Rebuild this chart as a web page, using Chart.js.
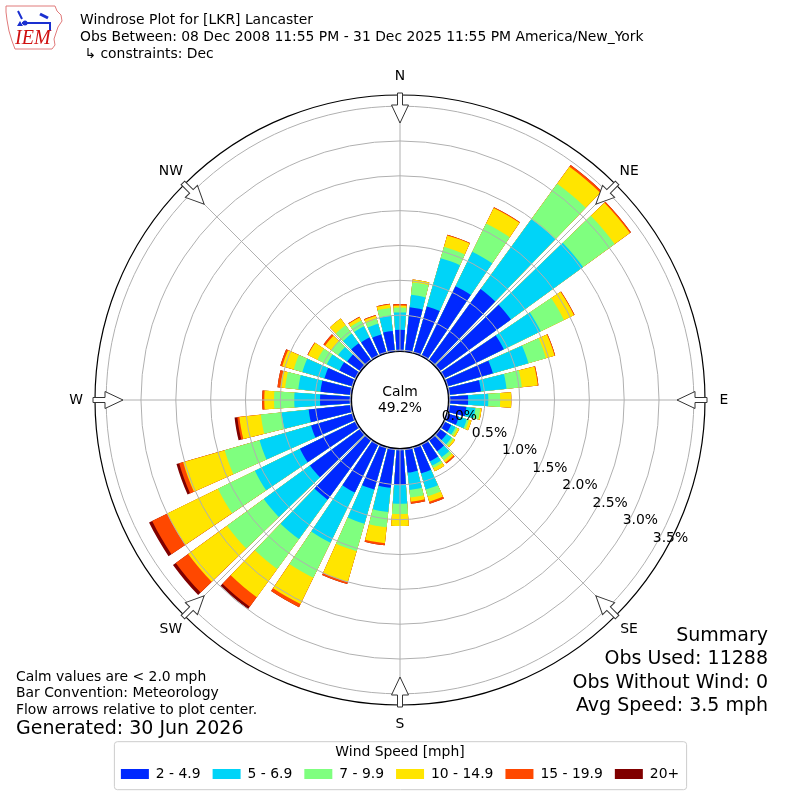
<!DOCTYPE html>
<html>
<head>
<meta charset="utf-8">
<title>Windrose Plot for [LKR] Lancaster</title>
<script src="https://cdn.jsdelivr.net/npm/chart.js@4.4.1/dist/chart.umd.min.js"></script>
<style>
  html, body { margin: 0; padding: 0; background: #fff; }
  #wrap { width: 800px; height: 800px; }
</style>
</head>
<body>
<div id="wrap"><canvas id="rose" width="800" height="800"></canvas></div>
<script>
// direction the wind blows from, degrees (N first, then clockwise)
const directions = [0, 10, 20, 30, 40, 50, 60, 70, 80, 90, 100, 110, 120, 130, 140, 150, 160, 170,
                    180, 190, 200, 210, 220, 230, 240, 250, 260, 270, 280, 290, 300, 310, 320, 330, 340, 350];

const speedBins = ['2 - 4.9', '5 - 6.9', '7 - 9.9', '10 - 14.9', '15 - 19.9', '20+'];

// frequency (% of all obs) per speed bin, one value per direction
const mph2to5 = [0.29, 0.62, 0.68, 1.10, 1.25, 1.25, 0.94, 0.67, 0.45, 0.26, 0.24, 0.16, 0.10, 0.11, 0.19, 0.26, 0.38, 0.33,
                 0.50, 0.55, 0.62, 0.76, 1.05, 0.88, 0.88, 0.61, 0.60, 0.43, 0.43, 0.41, 0.25, 0.22, 0.29, 0.28, 0.26, 0.28];
const mph5to7 = [0.25, 0.18, 0.72, 0.55, 1.24, 1.28, 0.59, 0.53, 0.37, 0.29, 0.13, 0.12, 0.07, 0.09, 0.11, 0.07, 0.24, 0.25,
                 0.27, 0.35, 0.51, 0.80, 0.70, 0.82, 0.72, 0.77, 0.39, 0.37, 0.32, 0.33, 0.20, 0.16, 0.17, 0.18, 0.16, 0.22];
const mph7to10 = [0.07, 0.18, 0.17, 0.45, 0.63, 0.56, 0.37, 0.26, 0.22, 0.17, 0.07, 0.03, 0.03, 0.03, 0.05, 0.04, 0.10, 0.11,
                  0.15, 0.22, 0.41, 0.56, 0.53, 0.65, 0.59, 0.52, 0.30, 0.29, 0.19, 0.13, 0.15, 0.12, 0.15, 0.09, 0.07, 0.11];
const mph10to15 = [0.03, 0.04, 0.17, 0.25, 0.30, 0.27, 0.16, 0.13, 0.23, 0.16, 0.02, 0.04, 0.03, 0.03, 0.04, 0.05, 0.08, 0.06,
                   0.17, 0.23, 0.46, 0.42, 0.50, 0.69, 0.81, 0.62, 0.31, 0.14, 0.07, 0.17, 0.15, 0.11, 0.12, 0.05, 0.05, 0.05];
const mph15to20 = [0.02, 0.00, 0.01, 0.01, 0.03, 0.02, 0.01, 0.01, 0.01, 0.00, 0.00, 0.00, 0.00, 0.00, 0.02, 0.00, 0.03, 0.03,
                   0.00, 0.03, 0.03, 0.05, 0.17, 0.22, 0.24, 0.06, 0.03, 0.03, 0.04, 0.03, 0.01, 0.03, 0.00, 0.01, 0.01, 0.01];
const mph20up = [0, 0, 0, 0, 0, 0, 0, 0, 0, 0, 0, 0, 0, 0, 0, 0, 0, 0,
                 0, 0, 0, 0, 0.04, 0.05, 0.05, 0.04, 0.04, 0, 0, 0, 0, 0, 0, 0, 0, 0];

const ringTicks = [0, 0.5, 1.0, 1.5, 2.0, 2.5, 3.0, 3.5];
const compass = ['N', 'NE', 'E', 'SE', 'S', 'SW', 'W', 'NW'];

const calmPct = 49.2;
const obsUsed = 11288;
const obsNoWind = 0;
const avgSpeed = 3.5;

const binColors = ['#0028ff', '#00d4f8', '#7fff7f', '#ffe500', '#ff4800', '#800000'];
const FONT = '"DejaVu Sans", sans-serif';
const BAR_DEG = 8, GAP_DEG = 2;   // bar plus gap = 10 degree sector
const R_MIN = -0.7176, R_MAX = 3.66;  // negative min leaves room for the calm circle

// each bar is followed by an empty gap slot; datasets hold running sums so they overlap into stacks
const bins = [mph2to5, mph5to7, mph7to10, mph10to15, mph15to20, mph20up];
const labels = [];
directions.forEach(d => { labels.push(d + '°'); labels.push(''); });

const datasets = bins.map((bin, k) => {
  const data = [];
  directions.forEach((d, i) => {
    let sum = 0;
    for (let j = 0; j <= k; j++) sum += bins[j][i];
    data.push(+sum.toFixed(3));
    data.push(0);
  });
  return {
    label: speedBins[k],
    data: data,
    backgroundColor: data.map((v, i) => i % 2 ? 'rgba(0,0,0,0)' : binColors[k]),
    angle: data.map((v, i) => i % 2 ? GAP_DEG : BAR_DEG),
    borderWidth: 0,
  };
});

const roseDecor = {
  id: 'roseDecor',
  afterDraw(chart) {
    const ctx = chart.ctx;
    const r = chart.scales.r;
    const cx = r.xCenter, cy = r.yCenter;
    const outer = r.drawingArea;
    const calmR = r.getDistanceFromCenterForValue(0) - 1.5;
    const pt = (deg, dist) => [cx + dist * Math.sin(deg * Math.PI / 180), cy - dist * Math.cos(deg * Math.PI / 180)];

    ctx.save();
    // spokes
    ctx.strokeStyle = '#b0b0b0';
    ctx.lineWidth = 1;
    compass.forEach((name, i) => {
      const a = pt(i * 45, calmR), b = pt(i * 45, outer);
      ctx.beginPath(); ctx.moveTo(a[0], a[1]); ctx.lineTo(b[0], b[1]); ctx.stroke();
    });
    // outer frame
    ctx.strokeStyle = '#000';
    ctx.lineWidth = 1.2;
    ctx.beginPath(); ctx.arc(cx, cy, outer, 0, Math.PI * 2); ctx.stroke();
    // calm circle
    ctx.fillStyle = '#fff';
    ctx.beginPath(); ctx.arc(cx, cy, calmR, 0, Math.PI * 2); ctx.fill(); ctx.stroke();

    ctx.fillStyle = '#000';
    ctx.textAlign = 'center';
    ctx.textBaseline = 'middle';
    ctx.font = '13.9px ' + FONT;
    ctx.fillText('Calm', cx, cy - 8);
    ctx.fillText(calmPct.toFixed(1) + '%', cx, cy + 8);

    // ring labels along 120 degrees
    ringTicks.forEach(v => {
      const d = r.getDistanceFromCenterForValue(v);
      const p = pt(120, d);
      ctx.fillText(v.toFixed(1) + '%', p[0] + 16, p[1] - 9);
    });

    // flow arrows and compass names
    compass.forEach((name, i) => {
      ctx.save();
      ctx.translate(cx, cy);
      ctx.rotate(i * Math.PI / 4);
      ctx.beginPath();
      ctx.moveTo(-2.5, -outer - 2);
      ctx.lineTo(2.5, -outer - 2);
      ctx.lineTo(2.5, -outer + 10);
      ctx.lineTo(8.5, -outer + 10);
      ctx.lineTo(0, -outer + 28);
      ctx.lineTo(-8.5, -outer + 10);
      ctx.lineTo(-2.5, -outer + 10);
      ctx.closePath();
      ctx.fillStyle = '#fff';
      ctx.fill();
      ctx.strokeStyle = '#333';
      ctx.lineWidth = 1;
      ctx.stroke();
      ctx.restore();
      const p = pt(i * 45, outer + 19);
      ctx.fillStyle = '#000';
      ctx.fillText(name, p[0], p[1]);
    });

    // header
    ctx.textAlign = 'left';
    ctx.font = '13.9px ' + FONT;
    ctx.fillText('Windrose Plot for [LKR] Lancaster', 80, 20);
    ctx.fillText('Obs Between: 08 Dec 2008 11:55 PM - 31 Dec 2025 11:55 PM America/New_York', 80, 37);
    ctx.fillText(' \u21b3 constraints: Dec', 80, 54);

    // footer notes
    ctx.fillText('Calm values are < 2.0 mph', 16, 677);
    ctx.fillText('Bar Convention: Meteorology', 16, 693);
    ctx.fillText('Flow arrows relative to plot center.', 16, 710);
    ctx.font = '19px ' + FONT;
    ctx.fillText('Generated: 30 Jun 2026', 16, 729);

    ctx.textAlign = 'right';
    ctx.fillText('Summary', 768, 636);
    ctx.fillText('Obs Used: ' + obsUsed, 768, 659);
    ctx.fillText('Obs Without Wind: ' + obsNoWind, 768, 683);
    ctx.fillText('Avg Speed: ' + avgSpeed.toFixed(1) + ' mph', 768, 706);

    // legend frame
    const lg = chart.legend;
    if (lg && lg.legendHitBoxes.length) {
      const hb = lg.legendHitBoxes;
      const x0 = Math.min(...hb.map(h => h.left)) - 7;
      const x1 = Math.max(...hb.map(h => h.left + h.width)) + 7;
      const y0 = lg.top + 36, y1 = lg.top + 84;
      ctx.strokeStyle = '#cccccc';
      ctx.lineWidth = 1;
      ctx.beginPath();
      ctx.roundRect(x0 + 0.5, y0 + 0.5, x1 - x0, y1 - y0, 3);
      ctx.stroke();
    }

    // IEM logo
    ctx.strokeStyle = '#e07a7a';
    ctx.lineWidth = 1;
    ctx.beginPath();
    [[6, 6], [55, 6], [57, 11], [61, 15], [62, 21], [58, 27], [56, 33], [54, 39], [55, 45], [52, 49], [15, 49],
     [12, 41], [9, 31], [7, 20], [6, 12]].forEach((p, i) => i ? ctx.lineTo(p[0], p[1]) : ctx.moveTo(p[0], p[1]));
    ctx.closePath();
    ctx.stroke();
    ctx.strokeStyle = '#1a2fd0';
    ctx.lineWidth = 2;
    ctx.beginPath();
    ctx.moveTo(22, 23); ctx.lineTo(51, 23);
    ctx.moveTo(18, 11); ctx.lineTo(22, 19);
    ctx.moveTo(50, 23); ctx.lineTo(50, 31);
    ctx.stroke();
    ctx.lineWidth = 3;
    ctx.beginPath(); ctx.moveTo(40, 14); ctx.lineTo(48, 18); ctx.stroke();
    ctx.fillStyle = '#1a2fd0';
    ctx.beginPath(); ctx.arc(25, 23, 2.5, 0, Math.PI * 2); ctx.fill();
    ctx.beginPath(); ctx.moveTo(17, 26); ctx.lineTo(20, 21); ctx.lineTo(23, 26); ctx.fill();
    ctx.fillStyle = '#d01010';
    ctx.textAlign = 'left';
    ctx.font = 'italic 20px "Liberation Serif", serif';
    ctx.fillText('IEM', 15, 39);
    ctx.restore();
  }
};

new Chart(document.getElementById('rose'), {
  type: 'polarArea',
  data: { labels: labels, datasets: datasets },
  options: {
    responsive: false,
    animation: false,
    layout: { padding: { top: 95, left: 95, right: 95, bottom: 9 } },
    scales: {
      r: {
        min: R_MIN,
        max: R_MAX,
        startAngle: -BAR_DEG / 2,
        z: 1,
        ticks: { display: false, stepSize: 0.5, includeBounds: false },
        grid: { circular: true, color: '#b0b0b0', lineWidth: 1, z: 1 },
        angleLines: { display: false },
        pointLabels: { display: false },
      },
    },
    plugins: {
      tooltip: { enabled: false },
      legend: {
        position: 'bottom',
        onClick: null,
        title: {
          display: true,
          text: 'Wind Speed [mph]',
          color: '#000',
          font: { family: FONT, size: 13.9, lineHeight: 1 },
          padding: { top: 40, bottom: -4 },
        },
        labels: {
          boxWidth: 28,
          boxHeight: 10,
          padding: 12,
          color: '#000',
          font: { family: FONT, size: 13.9 },
          generateLabels: () => speedBins.map((t, k) => ({
            text: t, fillStyle: binColors[k], strokeStyle: binColors[k], lineWidth: 0, hidden: false, datasetIndex: k,
          })),
        },
      },
    },
  },
  plugins: [roseDecor],
});
</script>
</body>
</html>
